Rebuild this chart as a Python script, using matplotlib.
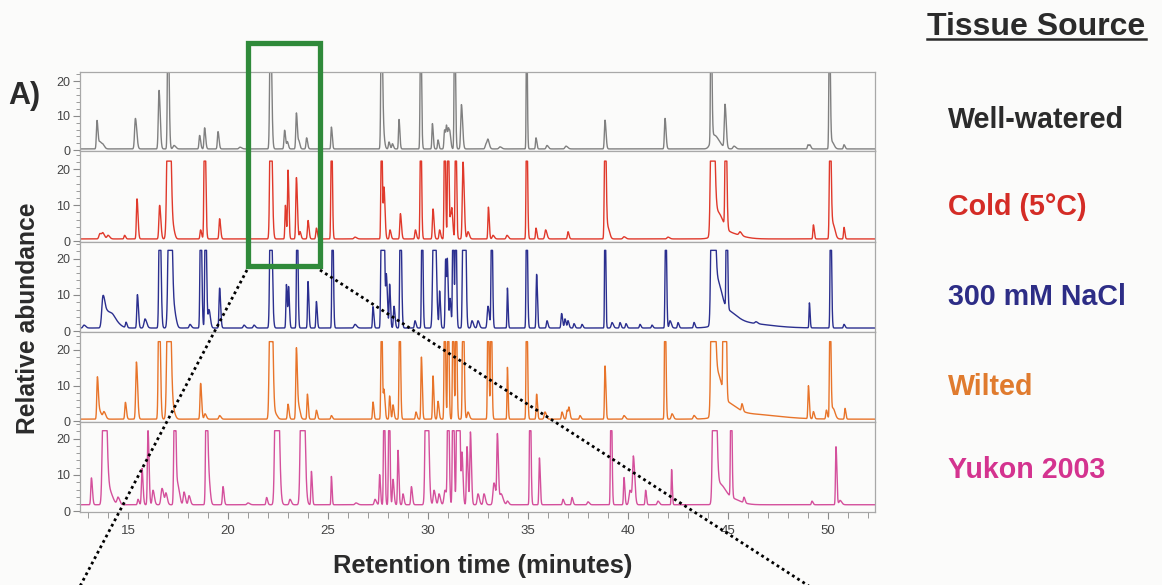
import numpy as np
import matplotlib
matplotlib.use("Agg")
import matplotlib.pyplot as plt
from matplotlib.patches import Rectangle
from matplotlib.lines import Line2D
from matplotlib.ticker import MultipleLocator

plt.rcParams['font.family'] = ['Liberation Sans', 'DejaVu Sans']

# ---- chromatogram peak tables: (retention time [min], abundance, peak sigma [min]) ----
# abundances above the detector ceiling are drawn flat-topped
well_watered = [
    (13.45, 8.2, 0.03), (13.6, 2.0, 0.05), (13.75, 1.0, 0.05), (15.37, 8.8, 0.04),
    (16.55, 16.9, 0.035), (17.0, 40, 0.03), (17.3, 1.0, 0.05), (18.58, 3.9, 0.03),
    (18.83, 6.1, 0.03), (19.5, 5.0, 0.03), (20.6, 0.5, 0.05), (22.12, 40, 0.035),
    (22.83, 5.4, 0.03), (22.97, 2.0, 0.03), (23.42, 10.4, 0.03), (23.55, 2.0, 0.03),
    (23.93, 3.2, 0.03), (25.17, 6.3, 0.025), (27.67, 40, 0.03), (27.75, 5.0, 0.04),
    (28.05, 2.0, 0.03), (28.22, 1.5, 0.03), (28.55, 8.5, 0.025), (29.63, 40, 0.025),
    (30.22, 7.3, 0.025), (30.5, 2.6, 0.025), (30.83, 5.5, 0.03), (30.93, 6.0, 0.03),
    (31.03, 5.0, 0.03), (31.1, 3.0, 0.03), (31.33, 40, 0.025), (31.67, 12.8, 0.035),
    (32.9, 1.5, 0.04), (33.0, 2.3, 0.04), (33.6, 0.6, 0.05), (34.93, 40, 0.02),
    (35.4, 3.2, 0.025), (35.95, 1.0, 0.04), (36.9, 0.8, 0.05), (38.85, 8.3, 0.03),
    (41.85, 8.8, 0.03), (44.15, 40, 0.025), (44.3, 4.0, 0.15), (44.85, 12.5, 0.035),
    (45.3, 0.8, 0.05), (49.0, 1.2, 0.03), (49.1, 1.0, 0.03), (50.07, 40, 0.025),
    (50.2, 2.0, 0.06), (50.8, 1.2, 0.03),
]
cold = [
    (13.6, 1.5, 0.05), (13.75, 1.4, 0.05), (14.0, 1.0, 0.05), (14.83, 1.0, 0.03),
    (15.45, 11.1, 0.03), (16.58, 9.3, 0.035), (17.02, 60, 0.06), (17.3, 1.5, 0.04),
    (18.63, 2.5, 0.03), (18.83, 40, 0.03), (19.58, 5.6, 0.03), (22.13, 45, 0.04),
    (22.87, 9.3, 0.025), (23.0, 19.0, 0.025), (23.42, 17.0, 0.03), (23.6, 2.0, 0.03),
    (24.0, 5.1, 0.03), (24.42, 3.0, 0.03), (25.17, 40, 0.025), (26.35, 0.5, 0.05),
    (27.67, 40, 0.025), (27.8, 14.0, 0.03), (28.1, 2.5, 0.03), (28.62, 7.0, 0.03),
    (29.37, 2.5, 0.03), (29.63, 40, 0.025), (30.25, 8.3, 0.03), (30.58, 2.5, 0.03),
    (30.83, 40, 0.025), (31.0, 40, 0.025), (31.13, 6.0, 0.03), (31.2, 6.0, 0.03),
    (31.38, 40, 0.025), (31.75, 21.3, 0.035), (32.0, 2.0, 0.04), (33.02, 8.8, 0.025),
    (33.25, 1.0, 0.04), (33.95, 1.0, 0.04), (34.93, 40, 0.025), (35.4, 3.0, 0.025),
    (35.88, 2.5, 0.04), (37.0, 2.0, 0.03), (38.85, 40, 0.03), (39.0, 3.0, 0.05),
    (39.8, 0.6, 0.05), (42.0, 0.5, 0.05), (44.2, 70, 0.055), (44.45, 6.0, 0.15),
    (44.8, 2.0, 0.4), (44.88, 40, 0.03), (45.6, 1.0, 0.05), (49.27, 3.9, 0.025),
    (50.1, 40, 0.03), (50.25, 4.0, 0.06), (50.8, 3.2, 0.025),
]
nacl = [
    (12.8, 0.8, 0.05), (13.75, 8.5, 0.06), (14.0, 4.0, 0.12), (14.3, 2.0, 0.15),
    (14.9, 1.5, 0.03), (15.47, 9.2, 0.03), (15.85, 2.5, 0.05), (16.58, 40, 0.035),
    (17.08, 60, 0.06), (17.35, 3.0, 0.05), (18.1, 1.0, 0.04), (18.63, 40, 0.03),
    (18.87, 40, 0.03), (19.05, 5.0, 0.04), (19.58, 11.0, 0.03), (20.8, 0.8, 0.04),
    (21.3, 0.8, 0.04), (22.13, 45, 0.04), (22.92, 12.0, 0.025), (23.03, 11.0, 0.025),
    (23.45, 40, 0.025), (24.0, 12.8, 0.025), (24.42, 7.3, 0.025), (25.22, 40, 0.025),
    (26.35, 1.0, 0.05), (27.25, 5.9, 0.025), (27.67, 40, 0.03), (27.78, 40, 0.03),
    (27.92, 14.0, 0.03), (28.08, 12.0, 0.025), (28.3, 6.0, 0.03), (28.62, 40, 0.03),
    (29.35, 2.0, 0.03), (29.7, 40, 0.025), (30.3, 50, 0.05), (30.58, 10.0, 0.025),
    (30.88, 19.0, 0.025), (30.97, 17.0, 0.025), (31.1, 8.0, 0.03), (31.25, 40, 0.025),
    (31.38, 40, 0.025), (31.75, 40, 0.03), (31.85, 40, 0.03), (32.2, 2.0, 0.04),
    (32.5, 2.0, 0.04), (33.0, 6.0, 0.04), (33.18, 40, 0.025), (33.97, 11.0, 0.02),
    (34.93, 40, 0.025), (35.43, 14.8, 0.025), (35.95, 2.0, 0.03), (36.68, 4.0, 0.03),
    (36.85, 2.5, 0.03), (37.0, 2.0, 0.03), (37.3, 1.2, 0.03), (37.7, 1.0, 0.03),
    (38.85, 40, 0.02), (39.2, 1.5, 0.04), (39.6, 1.5, 0.03), (39.9, 1.2, 0.03),
    (40.6, 1.0, 0.03), (41.2, 0.8, 0.03), (41.88, 40, 0.025), (42.1, 2.0, 0.04),
    (42.5, 1.5, 0.03), (43.3, 1.5, 0.03), (44.22, 80, 0.055), (44.45, 10.0, 0.12),
    (44.8, 4.0, 0.3), (45.5, 1.5, 0.8), (44.93, 40, 0.025), (46.4, 0.5, 0.05),
    (49.07, 6.9, 0.02), (50.13, 40, 0.025), (50.8, 1.0, 0.03),
]
wilted = [
    (13.47, 11.8, 0.03), (13.6, 2.0, 0.05), (13.8, 2.0, 0.05), (14.87, 4.7, 0.03),
    (15.42, 16.0, 0.035), (16.55, 40, 0.035), (17.02, 60, 0.06), (17.3, 1.5, 0.05),
    (18.63, 10.0, 0.03), (18.85, 1.5, 0.04), (19.58, 1.0, 0.04), (22.13, 60, 0.05),
    (22.4, 1.2, 0.05), (23.0, 4.2, 0.03), (23.42, 20.0, 0.03), (23.55, 3.0, 0.04),
    (23.97, 7.0, 0.025), (24.42, 2.5, 0.03), (25.17, 1.0, 0.03), (27.25, 4.8, 0.025),
    (27.67, 40, 0.025), (27.8, 8.0, 0.03), (28.08, 6.5, 0.025), (28.25, 4.0, 0.03),
    (28.58, 40, 0.025), (29.4, 2.0, 0.03), (29.67, 17.4, 0.025), (30.25, 12.1, 0.025),
    (30.5, 5.0, 0.03), (30.83, 40, 0.025), (31.0, 40, 0.025), (31.25, 40, 0.025),
    (31.4, 40, 0.025), (31.75, 40, 0.03), (32.0, 2.0, 0.04), (33.0, 40, 0.025),
    (33.15, 40, 0.025), (33.97, 14.5, 0.02), (34.93, 40, 0.025), (35.43, 7.0, 0.025),
    (35.85, 2.0, 0.04), (36.7, 2.0, 0.03), (36.95, 2.5, 0.03), (37.05, 3.0, 0.03),
    (37.6, 1.0, 0.03), (38.85, 14.9, 0.025), (39.8, 1.0, 0.04), (41.85, 40, 0.025),
    (42.2, 1.5, 0.04), (43.3, 1.0, 0.04), (44.22, 80, 0.055), (44.45, 10.0, 0.12),
    (44.8, 4.0, 0.3), (45.8, 1.5, 0.9), (44.77, 40, 0.025), (44.88, 40, 0.025),
    (45.7, 2.0, 0.03), (49.02, 9.2, 0.025), (49.27, 2.0, 0.03), (49.92, 2.5, 0.03),
    (50.1, 40, 0.025), (50.25, 3.0, 0.06), (50.85, 3.0, 0.025),
]
yukon = [
    (13.17, 7.4, 0.03), (13.8, 60, 0.06), (14.05, 4.0, 0.1), (14.5, 2.0, 0.05),
    (15.5, 1.5, 0.03), (15.7, 10.0, 0.03), (16.0, 20.4, 0.03), (16.25, 4.0, 0.04),
    (16.7, 4.5, 0.05), (16.9, 3.0, 0.04), (17.33, 40, 0.035), (17.5, 5.0, 0.05),
    (17.8, 3.5, 0.04), (18.05, 2.5, 0.04), (18.92, 40, 0.035), (19.05, 6.0, 0.04),
    (19.75, 5.0, 0.03), (21.0, 0.5, 0.05), (21.93, 2.0, 0.03), (22.42, 70, 0.06),
    (23.1, 1.5, 0.04), (23.7, 70, 0.06), (24.17, 9.2, 0.025), (25.17, 7.8, 0.02),
    (26.4, 0.5, 0.05), (27.35, 1.5, 0.04), (27.58, 8.3, 0.025), (27.8, 40, 0.025),
    (28.05, 40, 0.025), (28.25, 7.0, 0.03), (28.5, 15.0, 0.025), (28.75, 3.0, 0.03),
    (29.17, 5.0, 0.03), (29.92, 60, 0.05), (30.3, 4.0, 0.04), (30.55, 3.0, 0.04),
    (30.85, 4.0, 0.05), (31.0, 40, 0.03), (31.25, 40, 0.03), (31.45, 40, 0.03),
    (31.55, 40, 0.03), (31.7, 14.0, 0.03), (31.95, 16.0, 0.03), (32.12, 20.0, 0.03),
    (32.5, 3.0, 0.04), (32.8, 3.0, 0.04), (33.3, 6.0, 0.05), (33.47, 18.8, 0.03),
    (33.65, 3.0, 0.06), (33.97, 1.0, 0.04), (35.1, 40, 0.025), (35.57, 12.9, 0.025),
    (36.75, 1.5, 0.03), (37.2, 2.0, 0.03), (38.0, 0.8, 0.04), (39.15, 40, 0.025),
    (39.8, 7.5, 0.025), (40.1, 4.0, 0.05), (40.27, 12.9, 0.04), (40.88, 4.0, 0.025),
    (41.5, 1.0, 0.04), (42.18, 9.7, 0.02), (44.3, 70, 0.055), (44.55, 5.0, 0.15),
    (45.0, 2.0, 0.3), (45.15, 40, 0.025), (45.8, 1.5, 0.03), (49.2, 1.0, 0.03),
    (50.4, 16.0, 0.025), (50.6, 1.2, 0.05),
]

series_names = ["Well-watered", "Cold (5°C)", "300 mM NaCl", "Wilted", "Yukon 2003"]
series_peaks = [well_watered, cold, nacl, wilted, yukon]
baselines = [0.4, 0.65, 0.9, 0.6, 1.8]
ceilings = [None, 22.2, 22.3, 22.3, 22.2]
line_colors = ["#808080", "#e0392b", "#2b2f8f", "#e8742a", "#d4509c"]
label_colors = ["#2b2b2b", "#d42c26", "#2d2d86", "#e07b2e", "#d4338f"]
x_range = (12.6, 52.35)

W, H = 1162, 585
BG = "#fbfbfa"


def fx(px):
    return px / W


def fy(py):
    return 1 - py / H


def trace(t, peaks, base, ceiling):
    y = np.full_like(t, base)
    for rt, amp, sig in peaks:
        s = np.where(t < rt, sig, sig * 1.7)
        y += amp * np.exp(-0.5 * ((t - rt) / s) ** 2)
    if ceiling is not None:
        y = np.minimum(y, ceiling)
    return y


t = np.linspace(x_range[0], x_range[1], 9000)

fig = plt.figure(figsize=(W / 100, H / 100), dpi=100, facecolor=BG)

panel_px = [(72, 151), (151, 242), (242, 332), (332, 422), (422, 512)]
ytops = [22.6, 25.0, 24.6, 25.0, 24.6]
axes = []
for i, (top, bot) in enumerate(panel_px):
    ax = fig.add_axes([fx(80), fy(bot), fx(875) - fx(80), (bot - top) / H])
    ax.set_facecolor(BG)
    y = trace(t, series_peaks[i], baselines[i], ceilings[i])
    ax.plot(t, y, color=line_colors[i], lw=1.0)
    ax.set_xlim(*x_range)
    ax.set_ylim(-0.2, ytops[i])
    ax.set_yticks([0, 10, 20])
    ax.yaxis.set_minor_locator(MultipleLocator(2))
    ax.tick_params(axis='y', which='major', length=5, width=0.8, color='#8a8a8a',
                   labelsize=9, labelcolor='#444444', pad=2)
    ax.tick_params(axis='y', which='minor', length=3, width=0.7, color='#9a9a9a')
    for sp in ax.spines.values():
        sp.set_color('#a8a8a8')
        sp.set_linewidth(0.9)
    if i < 4:
        ax.set_xticks([])
        ax.xaxis.set_minor_locator(plt.NullLocator())
    else:
        ax.set_xticks([15, 20, 25, 30, 35, 40, 45, 50])
        ax.xaxis.set_minor_locator(MultipleLocator(1))
        ax.tick_params(axis='x', which='major', length=5, width=0.8, color='#8a8a8a',
                       labelsize=9.5, labelcolor='#444444', pad=4)
        ax.tick_params(axis='x', which='minor', length=4, width=0.7, color='#9a9a9a')
    axes.append(ax)

# axis titles and panel tag
fig.text(fx(483), fy(566), "Retention time (minutes)", ha='center', va='center',
         fontsize=18.4, fontweight='bold', color='#2b2b2b')
fig.text(fx(28), fy(318), "Relative abundance", ha='center', va='center',
         rotation=90, fontsize=17.7, fontweight='bold', color='#2b2b2b')
fig.text(fx(8), fy(96), "A)", ha='left', va='center', fontsize=22,
         fontweight='bold', color='#2b2b2b')

# key on the right
fig.text(fx(1036), fy(35), "Tissue Source", ha='center', va='baseline',
         fontsize=23, fontweight='bold', color='#2b2b2b')
fig.add_artist(Line2D([fx(927), fx(1146)], [fy(39), fy(39)], color='#2b2b2b', lw=1.8))
label_y = [120, 207, 297, 387, 470]
for name, col, yy in zip(series_names, label_colors, label_y):
    fig.text(fx(948), fy(yy), name, ha='left', va='center', fontsize=20.6,
             fontweight='bold', color=col)

# highlighted retention window and its zoom guides
fig.add_artist(Rectangle((fx(248), fy(266)), fx(320) - fx(248), fy(43) - fy(266),
                         transform=fig.transFigure, fill=False, ec='#2f8a3a',
                         lw=3.8, zorder=10))
fig.add_artist(Line2D([fx(247), fx(78)], [fy(270), fy(590)], color='black',
                      lw=2.0, ls=(0, (1, 1.2)), zorder=11))
fig.add_artist(Line2D([fx(320), fx(815)], [fy(270), fy(590)], color='black',
                      lw=2.0, ls=(0, (1, 1.2)), zorder=11))

fig.savefig("out.png", dpi=100, facecolor=BG)
